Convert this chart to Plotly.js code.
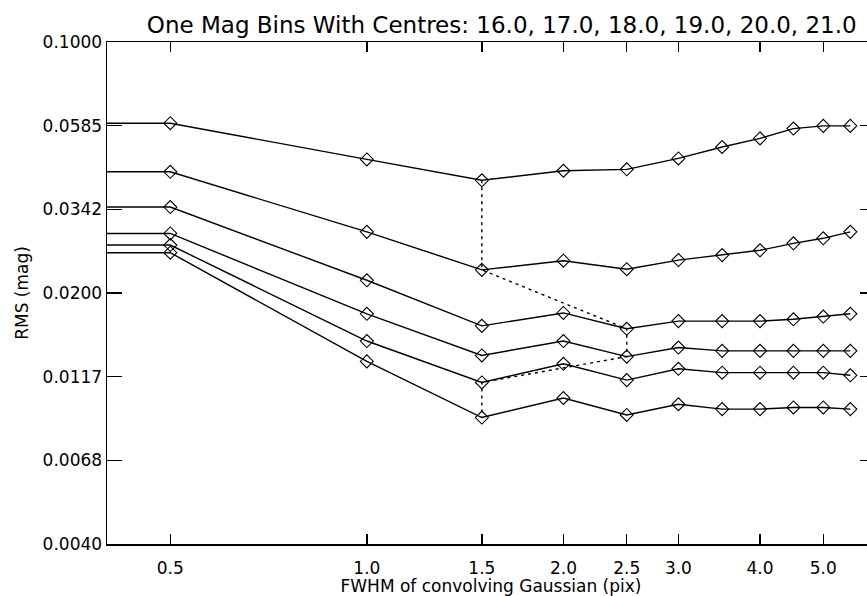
<!DOCTYPE html>
<html>
<head>
<meta charset="utf-8">
<script src="https://cdn.plot.ly/plotly-3.0.1.min.js"></script>
<style>html,body{margin:0;padding:0;overflow:hidden;background:#fff}</style>
</head>
<body>
<div id="chart" style="width:880px;height:596px"></div>
<script>
// FWHM of convolving Gaussian (pix)
const fwhm = [0.5, 1.0, 1.5, 2.0, 2.5, 3.0, 3.5, 4.0, 4.5, 5.0, 5.5];
// One-magnitude bins
const magCentres = [16.0, 17.0, 18.0, 19.0, 20.0, 21.0];
// RMS (mag) per magnitude bin
const rms16 = [0.0259, 0.0129, 0.0090, 0.0102, 0.00915, 0.0098, 0.0095, 0.0095, 0.0096, 0.0096, 0.0095];
const rms17 = [0.0272, 0.0147, 0.01127, 0.0127, 0.01144, 0.0123, 0.0120, 0.0120, 0.0120, 0.0120, 0.0118];
const rms18 = [0.0293, 0.0175, 0.0134, 0.0147, 0.0133, 0.0141, 0.0138, 0.0138, 0.0138, 0.0138, 0.0138];
const rms19 = [0.0347, 0.0217, 0.0162, 0.0176, 0.0159, 0.0167, 0.0167, 0.0167, 0.0169, 0.0172, 0.0175];
const rms20 = [0.0435, 0.0296, 0.0232, 0.0246, 0.0233, 0.0247, 0.0255, 0.0263, 0.0275, 0.0284, 0.0296];
const rms21 = [0.0594, 0.0471, 0.0412, 0.0438, 0.0442, 0.0474, 0.0510, 0.0539, 0.0574, 0.0584, 0.0584];

const xTickVals = [0.5, 1.0, 1.5, 2.0, 2.5, 3.0, 4.0, 5.0];
const xTickText = ['0.5', '1.0', '1.5', '2.0', '2.5', '3.0', '4.0', '5.0'];
const yTickVals = [0.0040, 0.00684, 0.0117, 0.0200, 0.0342, 0.0585, 0.1000];
const yTickText = ['0.0040', '0.0068', '0.0117', '0.0200', '0.0342', '0.0585', '0.1000'];
const xRange = [0.4, 6.0];
const yRange = [0.004, 0.1];

const series = [rms16, rms17, rms18, rms19, rms20, rms21];
const FONT = 'DejaVu Sans, sans-serif';
const traces = [];

series.forEach((r, i) => {
  // line from the left axis edge through all points
  traces.push({
    x: [xRange[0]].concat(fwhm), y: [r[0]].concat(r),
    mode: 'lines', type: 'scatter', hoverinfo: 'skip',
    line: {color: '#000', width: 1.4}, name: 'mag ' + magCentres[i]
  });
  traces.push({
    x: fwhm, y: r, mode: 'markers', type: 'scatter',
    marker: {symbol: 'diamond-open', size: 10, color: '#000', line: {width: 1.1, color: '#000'}},
    name: 'mag ' + magCentres[i]
  });
});

// path through the minimum of each bin (from faintest to brightest)
const minX = [], minY = [];
series.slice().reverse().forEach(r => {
  let k = 0;
  r.forEach((v, j) => { if (v < r[k]) k = j; });
  minX.push(fwhm[k]); minY.push(r[k]);
});
traces.push({
  x: minX, y: minY, mode: 'lines', type: 'scatter',
  line: {color: '#000', width: 1.4, dash: '3px,4px'}
});

const axisCommon = {
  showline: true, linecolor: '#000', linewidth: 1.5, mirror: 'ticks',
  ticks: 'inside', tickcolor: '#000', tickwidth: 1.3,
  showgrid: false, zeroline: false,
  tickfont: {family: FONT, size: 17, color: '#000'}
};

const layout = {
  width: 880, height: 596,
  margin: {l: 107, r: 5, t: 42, b: 52},
  paper_bgcolor: '#fff', plot_bgcolor: '#fff',
  showlegend: false,
  title: {
    text: 'One Mag Bins With Centres: 16.0, 17.0, 18.0, 19.0, 20.0, 21.0',
    font: {family: FONT, size: 23, color: '#000'},
    xref: 'paper', x: 0.514, xanchor: 'center',
    yref: 'container', y: 1 - 25 / 596, yanchor: 'middle'
  },
  xaxis: Object.assign({}, axisCommon, {
    type: 'log', range: [Math.log10(xRange[0]), Math.log10(xRange[1])],
    tickmode: 'array', tickvals: xTickVals, ticktext: xTickText, ticklen: 10,
    ticklabelstandoff: 8,
    title: {text: 'FWHM of convolving Gaussian (pix)', font: {family: FONT, size: 17, color: '#000'}, standoff: 8}
  }),
  yaxis: Object.assign({}, axisCommon, {
    type: 'log', range: [Math.log10(yRange[0]), Math.log10(yRange[1])],
    tickmode: 'array', tickvals: yTickVals, ticktext: yTickText, ticklen: 15,
    title: {text: 'RMS (mag)', font: {family: FONT, size: 17, color: '#000'}, standoff: 9}
  })
};

Plotly.newPlot('chart', traces, layout, {displayModeBar: false, staticPlot: true});
</script>
</body>
</html>
